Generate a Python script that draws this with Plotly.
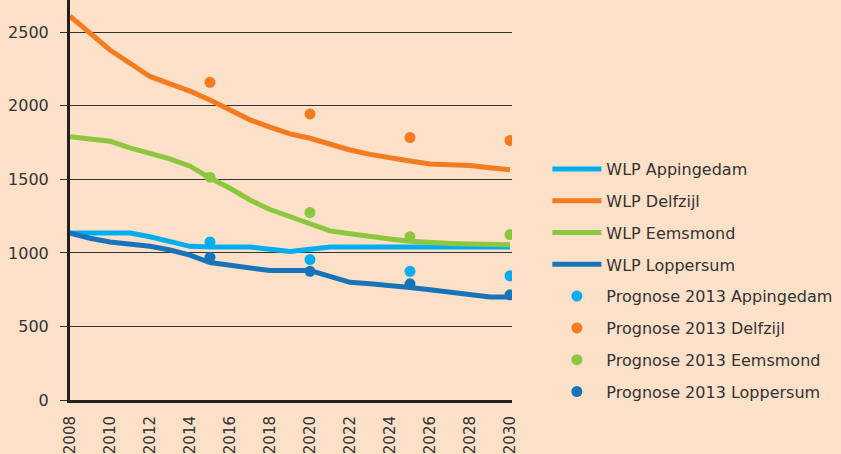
import plotly.graph_objects as go

years = list(range(2008, 2031))
wlp_appingedam = [1135, 1135, 1135, 1135, 1110, 1080, 1045, 1040, 1040, 1040, 1025, 1010, 1025, 1040,
                  1040, 1040, 1040, 1040, 1040, 1040, 1040, 1040, 1040]
wlp_delfzijl = [2610, 2490, 2380, 2290, 2200, 2150, 2100, 2040, 1970, 1905, 1855, 1810, 1780, 1740,
                1700, 1670, 1645, 1625, 1605, 1600, 1595, 1580, 1565]
wlp_eemsmond = [1790, 1775, 1760, 1715, 1675, 1640, 1590, 1510, 1440, 1360, 1295, 1245, 1195, 1150,
                1130, 1110, 1095, 1080, 1070, 1065, 1060, 1058, 1055]
wlp_loppersum = [1135, 1100, 1075, 1060, 1045, 1020, 985, 935, 915, 895, 880, 880, 880, 840,
                 800, 790, 780, 765, 750, 735, 720, 700, 700]

prog_years = [2015, 2020, 2025, 2030]
prog_appingedam = [1075, 955, 875, 845]
prog_delfzijl = [2160, 1945, 1785, 1765]
prog_eemsmond = [1515, 1275, 1110, 1125]
prog_loppersum = [970, 875, 790, 715]

tick_years = list(range(2008, 2031, 2))
y_ticks = [0, 500, 1000, 1500, 2000, 2500]

c_app = "#00AEEF"
c_del = "#F47B20"
c_eem = "#8DC63F"
c_lop = "#1873BA"
bg = "#FDE0C8"
txt = "#333333"
font_fam = "DejaVu Sans ExtraLight, DejaVu Sans, Verdana, sans-serif"

fig = go.Figure()
i = 0
for name, vals, col in [("WLP Appingedam", wlp_appingedam, c_app),
                        ("WLP Delfzijl", wlp_delfzijl, c_del),
                        ("WLP Eemsmond", wlp_eemsmond, c_eem),
                        ("WLP Loppersum", wlp_loppersum, c_lop)]:
    fig.add_trace(go.Scatter(x=years, y=vals, mode="lines", name=name, legendgroup=f"g{i}",
                             line=dict(color=col, width=5)))
    i += 1
for name, vals, col in [("Prognose 2013 Appingedam", prog_appingedam, c_app),
                        ("Prognose 2013 Delfzijl", prog_delfzijl, c_del),
                        ("Prognose 2013 Eemsmond", prog_eemsmond, c_eem),
                        ("Prognose 2013 Loppersum", prog_loppersum, c_lop)]:
    fig.add_trace(go.Scatter(x=prog_years, y=vals, mode="markers", name=name, legendgroup=f"g{i}",
                             marker=dict(color=col, size=11)))
    i += 1

fig.update_layout(
    width=841, height=454,
    paper_bgcolor=bg, plot_bgcolor=bg,
    margin=dict(l=70, r=329, t=0, b=54, autoexpand=False),
    font=dict(family=font_fam, color=txt, size=16),
    showlegend=True,
    legend=dict(x=1.08, y=0.62, xanchor="left", yanchor="top",
                bgcolor="rgba(0,0,0,0)", font=dict(size=16, color=txt, family=font_fam),
                itemwidth=49, tracegroupgap=8),
    xaxis=dict(range=[2008, 2030.1], tickmode="array", tickvals=tick_years,
               ticktext=[str(y) for y in tick_years], tickangle=-90,
               showgrid=False, zeroline=False, showline=True, linecolor="#231F20",
               linewidth=3, ticks="", ticklabelstandoff=7, automargin=False,
               tickfont=dict(size=15, color=txt)),
    yaxis=dict(range=[0, 2720], tickmode="array", tickvals=y_ticks,
               showgrid=True, gridcolor="#333333", gridwidth=1, zeroline=False,
               showline=True, linecolor="#231F20", linewidth=3, automargin=False,
               ticks="outside", ticklen=7, tickcolor="#333333", tickwidth=1,
               ticklabelstandoff=8, tickfont=dict(size=16, color=txt)),
)

fig.write_html("out.html", config={"displayModeBar": False},
               post_script="document.body.style.margin='0';")
